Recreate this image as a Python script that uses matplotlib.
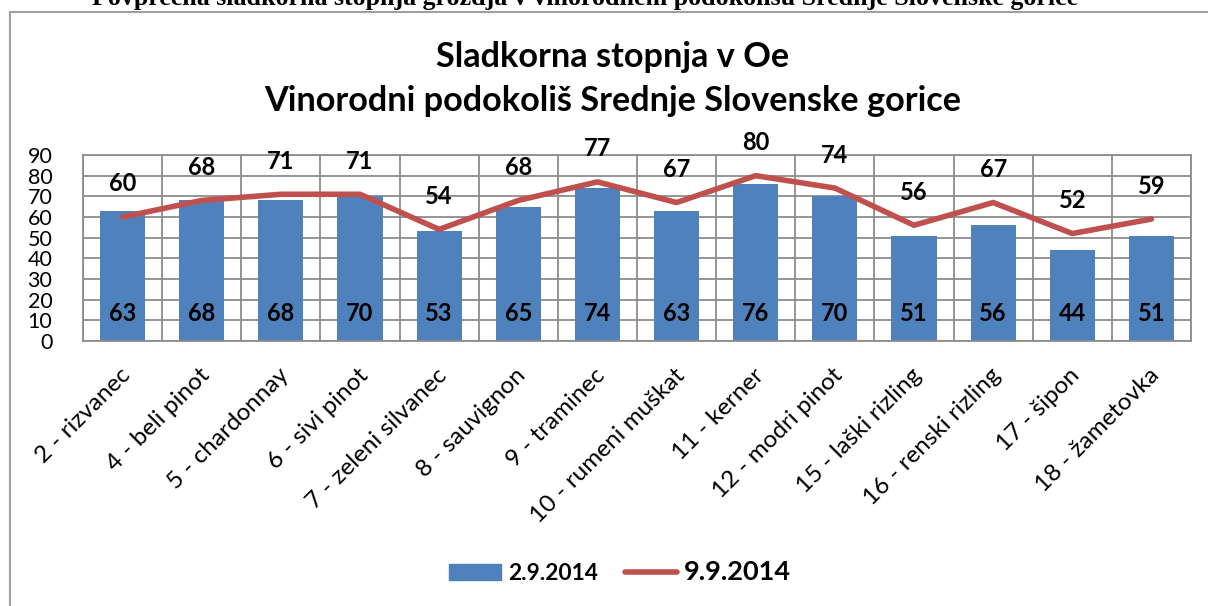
import matplotlib
matplotlib.use("Agg")
import matplotlib.pyplot as plt
from matplotlib.lines import Line2D
from matplotlib.patches import Patch, Rectangle
import matplotlib.transforms as mtransforms
import numpy as np

categories = ["2 - rizvanec", "4 - beli pinot", "5 - chardonnay", "6 - sivi pinot",
              "7 - zeleni silvanec", "8 - sauvignon", "9 - traminec", "10 - rumeni muškat",
              "11 - kerner", "12 - modri pinot", "15 - laški rizling", "16 - renski rizling",
              "17 - šipon", "18 - žametovka"]
bars_0209 = [63, 68, 68, 70, 53, 65, 74, 63, 76, 70, 51, 56, 44, 51]
line_0909 = [60, 68, 71, 71, 54, 68, 77, 67, 80, 74, 56, 67, 52, 59]
yticks = [0, 10, 20, 30, 40, 50, 60, 70, 80, 90]

FONT = ["Lato", "DejaVu Sans"]
plt.rcParams['font.family'] = FONT

W, H = 1208, 606
fig = plt.figure(figsize=(W / 100, H / 100), dpi=100)

# outer chart frame
fig.add_artist(Rectangle((10 / W, -0.1), 1.2, (H - 12) / H + 0.1, transform=fig.transFigure,
                         fill=False, edgecolor="#a0a0a0", linewidth=1.5))

# clipped document heading at top
fig.text(585 / W, 1 - 5 / H, "Povprečna sladkorna stopnja grozdja v vinorodnem podokolišu Srednje Slovenske gorice",
         ha="center", va="baseline", family="Liberation Serif", fontweight="bold", fontsize=18.7)

left, right, top, bottom = 83, 1191, 155, 341
ax = fig.add_axes([left / W, 1 - bottom / H, (right - left) / W, (bottom - top) / H])

x = np.arange(len(categories))
ax.bar(x, bars_0209, width=0.57, color="#4F81BD", zorder=2)
ax.plot(x, line_0909, color="#C0504D", linewidth=4, solid_capstyle="round", zorder=3)

ax.set_xlim(-0.5, len(categories) - 0.5)
ax.set_ylim(0, 90)
ax.set_yticks(yticks)
ax.set_yticklabels([str(v) for v in yticks], fontsize=15.5)
ax.set_xticks(x)
ax.set_xticklabels(categories, rotation=45, ha="right", rotation_mode="anchor", fontsize=17.5)
ax.tick_params(axis="both", length=0)
ax.tick_params(axis="y", pad=22)
ax.tick_params(axis="x", pad=17)
shift = mtransforms.ScaledTranslation(-3 / 100, 0, fig.dpi_scale_trans)
for lbl in ax.get_xticklabels():
    lbl.set_transform(lbl.get_transform() + shift)

ax.set_xticks(np.arange(-0.5, len(categories), 1), minor=True)
ax.grid(True, axis="y", color="#8c8c8c", linewidth=1.3, zorder=0)
ax.grid(True, axis="x", which="minor", color="#8c8c8c", linewidth=1.3, zorder=0)
ax.grid(False, axis="x", which="major")
ax.tick_params(axis="x", which="minor", length=0)
for s in ax.spines.values():
    s.set_color("#8c8c8c")
    s.set_linewidth(1.3)

for xi, v in zip(x, bars_0209):
    ax.text(xi, 13.5, str(v), ha="center", va="center", fontsize=17, fontweight="bold", zorder=4)
for xi, v in zip(x, line_0909):
    ax.annotate(str(v), (xi, v), xytext=(0, 33), textcoords="offset pixels",
                ha="center", va="center", fontsize=17, fontweight="bold", zorder=4)

fig.text(613 / W, 1 - 57 / H, "Sladkorna stopnja v Oe", ha="center", va="center",
         fontsize=24.7, fontweight="bold")
fig.text(613 / W, 1 - 101 / H, "Vinorodni podokoliš Srednje Slovenske gorice", ha="center", va="center",
         fontsize=24.7, fontweight="bold")

handles = [Patch(color="#4F81BD"), Line2D([], [], color="#C0504D", linewidth=4, solid_capstyle="round")]
leg = fig.legend(handles, ["2.9.2014", "9.9.2014"], loc="center", bbox_to_anchor=(620 / W, 1 - 572 / H),
                 ncol=2, frameon=False, handlelength=2.3, handleheight=0.66, columnspacing=1.2,
                 handletextpad=0.3, prop={"weight": "bold", "size": 16.4})
texts = leg.get_texts()
texts[1].set_fontsize(19.5)

fig.savefig("out.png", dpi=100)
